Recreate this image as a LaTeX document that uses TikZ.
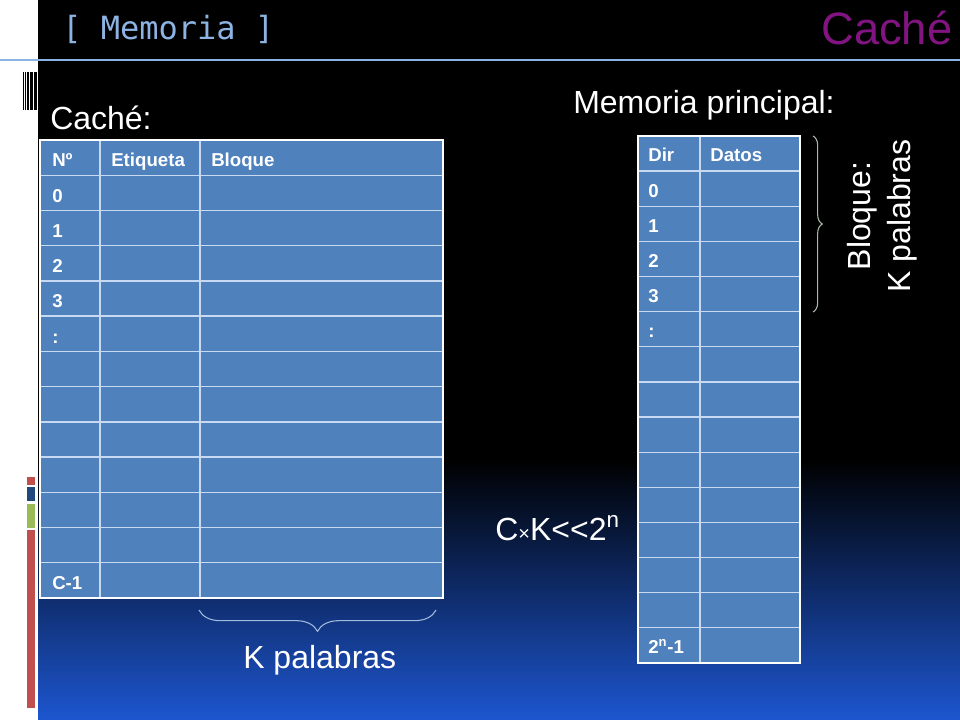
\documentclass[tikz,border=0pt]{standalone}
\usepackage{fontspec}
\setmainfont{Liberation Sans}
\newfontfamily\titlefont{DejaVu Sans Mono}
\usetikzlibrary{decorations.pathreplacing}

\definecolor{slideblue}{RGB}{29,86,208}
\definecolor{titleblue}{RGB}{141,179,226}
\definecolor{cachepurple}{RGB}{130,20,130}
\definecolor{cellblue}{RGB}{79,129,189}
\definecolor{gridline}{RGB}{200,218,242}
\definecolor{barred}{RGB}{192,80,77}
\definecolor{bardark}{RGB}{31,73,125}
\definecolor{bargreen}{RGB}{155,187,89}
\definecolor{bracegray}{RGB}{170,186,170}
\definecolor{braceblue}{RGB}{160,185,220}

\tikzset{
  celltxt/.style={anchor=base west, inner sep=0pt, text=white, font=\fontsize{14}{16}\selectfont\bfseries},
  bigtxt/.style={anchor=base west, inner sep=0pt, text=white, font=\fontsize{24}{30}\selectfont},
  gridrule/.style={draw=gridline, line width=1pt},
  tableframe/.style={draw=white, line width=2pt},
  curly/.style={decorate, decoration={brace, amplitude=#1}, line width=0.8pt}
}

\begin{document}
\begin{tikzpicture}[x=0.75pt, y=-0.75pt]
        \useasboundingbox (0,0) rectangle (960,720);
        \clip (0,0) rectangle (960,720);
        % slide background
        \fill[white] (0,0) rectangle (38,720);
        \fill[black] (38,0) rectangle (960,461);
        \shade[top color=black, bottom color=slideblue] (38,460) rectangle (960,720);
        \draw[titleblue, line width=0.9pt] (0,60) -- (960,60);
        \foreach \a/\w in {23/1.3, 25.2/1, 27/1.7, 29.6/0.8, 31.2/2.2, 34.4/2.4}
            \fill[black] (\a,72) rectangle ++(\w,38);
        \fill[barred] (27,477) rectangle (35,485);
        \fill[bardark] (27,487) rectangle (35,501);
        \fill[bargreen] (27,504) rectangle (35,528);
        \fill[barred] (27,530) rectangle (35,708);
        \node[anchor=base west, inner sep=0pt, text=titleblue, font=\titlefont\fontsize{24}{28}\selectfont] (title) at (62,40) {[ Memoria ]};
        \node[anchor=base west, inner sep=0pt, text=cachepurple, font=\fontsize{34}{40}\selectfont] (topic) at (821,45) {Caché};

        % cache table
        \fill[cellblue] (40,140) rectangle (443,598);
        \foreach \i in {1,...,12}
            \draw[gridrule] (40,140+\i*35.23) -- (443,140+\i*35.23);
        \draw[gridrule] (100,140) -- (100,598);
        \draw[gridrule] (200,140) -- (200,598);
        \draw[tableframe] (40,140) rectangle (443,598);
        \node[celltxt] (cnum) at (52,167) {Nº};
        \node[celltxt] (ctag) at (111,167) {Etiqueta};
        \node[celltxt] (cblk) at (211,167) {Bloque};
        \foreach \t [count=\i] in {0,1,2,3,:}
            \node[celltxt] (crow\i) at (52,167+\i*35.23) {\t};
        \node[celltxt] (clast) at (52,167+12*35.23) {C-1};

        % main memory table
        \fill[cellblue] (638,136) rectangle (800,663);
        \foreach \i in {1,...,14}
            \draw[gridrule] (638,136+\i*35.13) -- (800,136+\i*35.13);
        \draw[gridrule] (700,136) -- (700,663);
        \draw[tableframe] (638,136) rectangle (800,663);
        \node[celltxt] (mdir) at (648,162) {Dir};
        \node[celltxt] (mdat) at (710,162) {Datos};
        \foreach \t [count=\i] in {0,1,2,3,:}
            \node[celltxt] (mrow\i) at (648,162+\i*35.13) {\t};
        \node[celltxt] (mlast) at (648,162+14*35.13) {2\textsuperscript{n}-1};

        % labels
        \node[bigtxt] (cachelbl) at (50,130) {Caché:};
        \node[bigtxt] (mainlbl) at (573,114) {Memoria principal:};
        \node[bigtxt] (ratio) at (495,540) {C{\fontsize{15}{15}\selectfont ×}K<{}<2\textsuperscript{n}};
        \node[bigtxt] (kwords) at (243,668) {K palabras};
        \node[bigtxt, anchor=center, rotate=90, align=center] (blockwords) at (882,216) {Bloque:\\K palabras};

        % braces
        \coordinate (bracetop) at (813,136);
        \coordinate (bracebot) at (813,312);
        \draw[bracegray, curly=7pt] (bracetop) -- (bracebot);
        \coordinate (braceright) at (436,610);
        \coordinate (braceleft) at (199,610);
        \draw[braceblue, curly=16pt] (braceright) -- (braceleft);
    \end{tikzpicture}
\end{document}
